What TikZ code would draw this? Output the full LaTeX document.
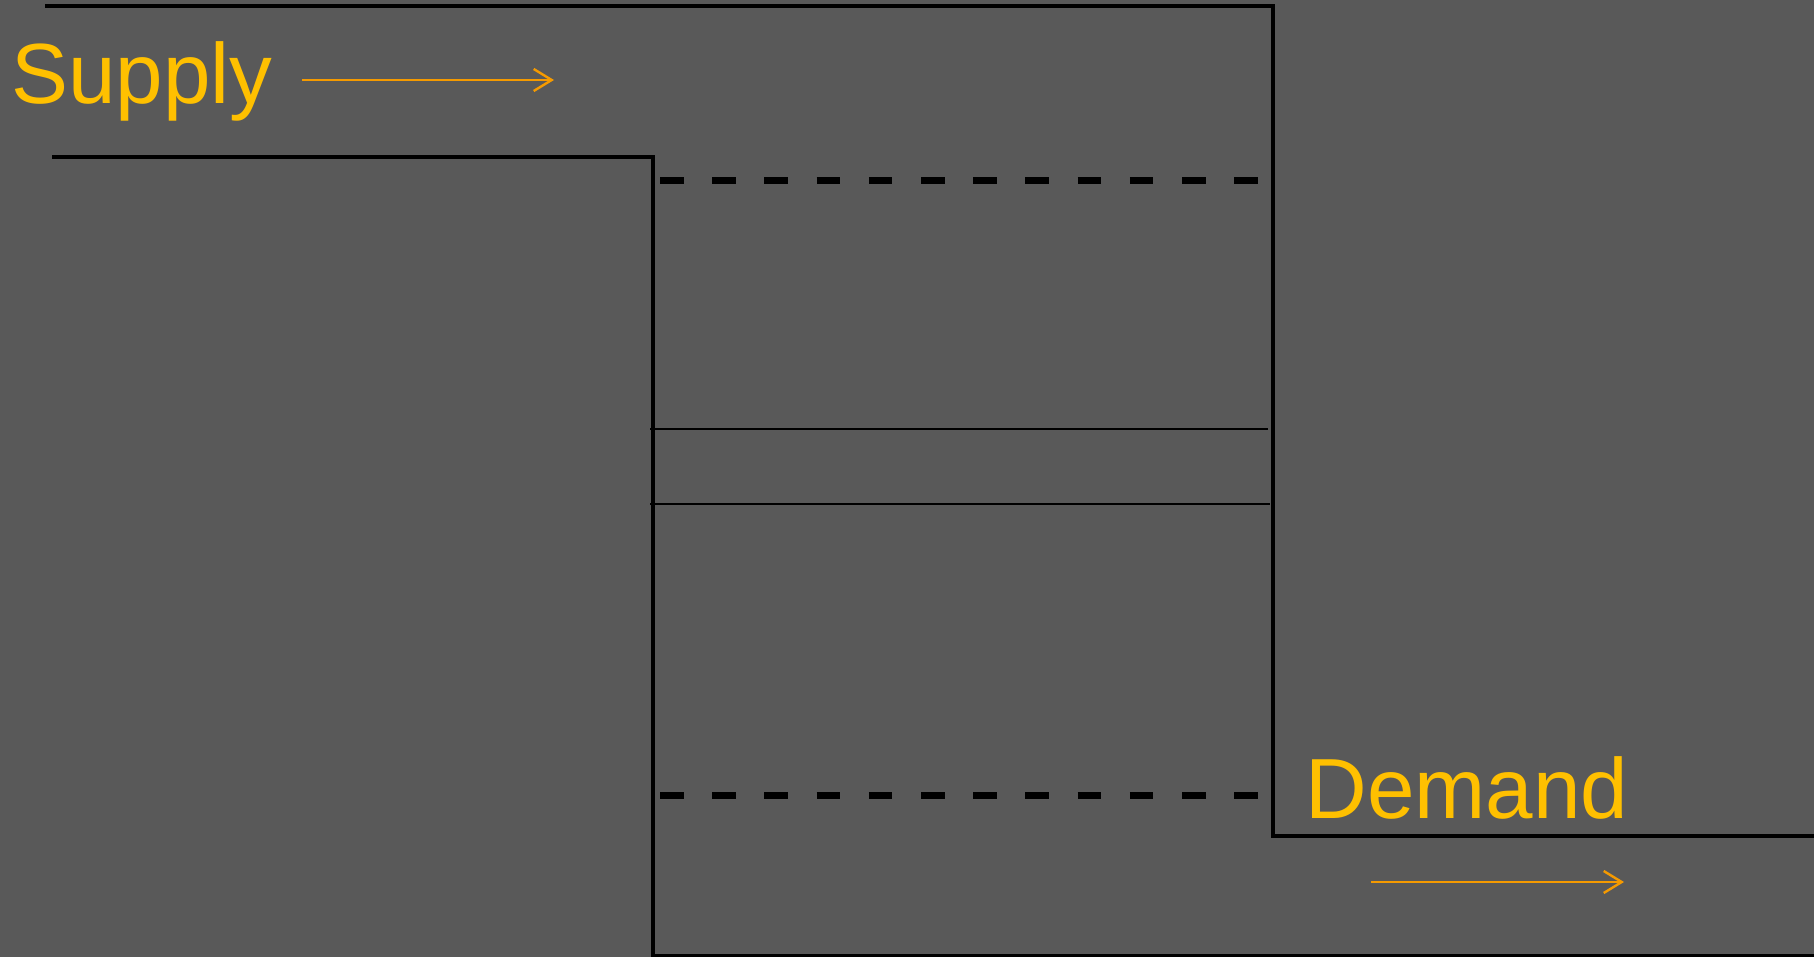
\documentclass[tikz,border=0pt]{standalone}
\usepackage{fontspec}
\setmainfont{Liberation Sans}
\usetikzlibrary{arrows.meta}
\definecolor{bgc}{HTML}{595959}
\definecolor{txtc}{HTML}{FFC000}
\definecolor{arrc}{HTML}{F59A00}
\tikzset{
  wall/.style={draw=black, line width=1.8pt, line join=miter},
  thinline/.style={draw=black, line width=1.2pt},
  dashline/.style={draw=black, line width=3.5pt, dash pattern=on 11.75pt off 14.35pt},
  lbl/.style={text=txtc, font=\fontsize{42.7}{50}\selectfont, inner sep=0pt, anchor=base west},
  flow/.style={draw=arrc, line width=1.2pt, -{Straight Barb[length=9pt,width=11pt,line width=1.2pt]}}
}
\begin{document}
\begin{tikzpicture}[x=0.5pt,y=-0.5pt]
\fill[bgc] (0,0) rectangle (1814,957);
\useasboundingbox (0,0) rectangle (1814,957);
% walls
\draw[wall] (45,6) -- (1273,6) -- (1273,836) -- (1814,836);
\draw[wall] (52,157) -- (653,157) -- (653,958);
\draw[wall] (653,956) -- (1814,956);
% inner lines
\draw[dashline] (660,181) -- (1258,181);
\draw[dashline] (660,795) -- (1258,795);
\draw[thinline] (650,429) -- (1268,429);
\draw[thinline] (650,504) -- (1270,504);
% labels
\node[lbl] (supply) at (11,104) {Supply};
\node[lbl] (demand) at (1305,818) {Demand};
% arrows
\coordinate (sa1) at (302,80);
\coordinate (sa2) at (554,80);
\coordinate (da1) at (1371,882);
\coordinate (da2) at (1624,882);
\draw[flow] (sa1) -- (sa2);
\draw[flow] (da1) -- (da2);
\end{tikzpicture}
\end{document}
